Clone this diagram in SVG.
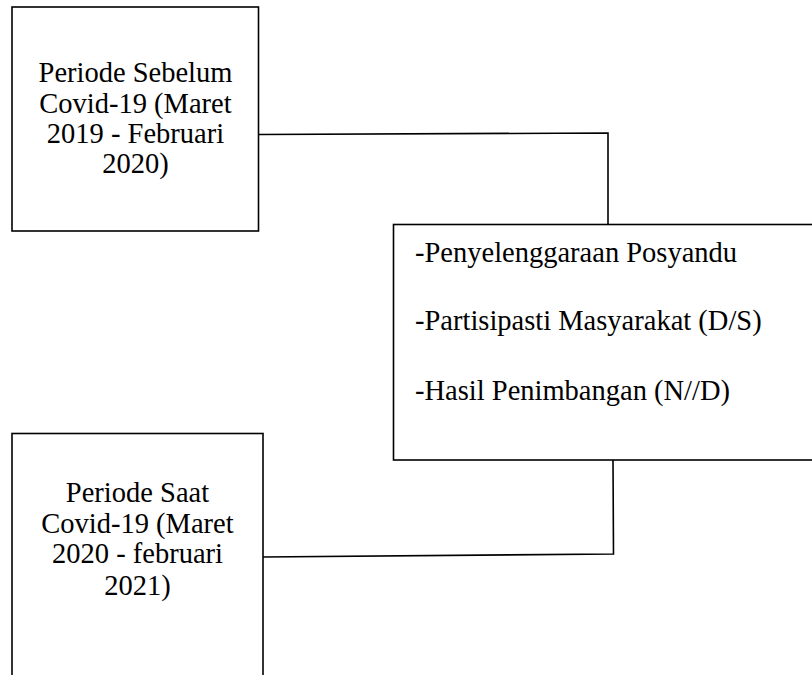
<svg xmlns="http://www.w3.org/2000/svg" width="812" height="675" viewBox="0 0 812 675">
<style>
.box{fill:#fff;stroke:#000;stroke-width:1.6}
.conn{fill:none;stroke:#000;stroke-width:1.6}
.t{font-family:"Liberation Serif","Times New Roman",serif;font-size:28.5px;fill:#000}
.c{text-anchor:middle}
</style>
<rect width="812" height="675" fill="#fff"/>
<g id="connectors">
<polyline class="conn" points="258.5,134.5 608,133 608,224"/>
<polyline class="conn" points="613,460 613.5,554 263,557"/>
</g>
<g id="node-sebelum">
<rect class="box" x="12" y="7" width="246.5" height="224"/>
<text class="t c" x="135.5" y="82">Periode Sebelum</text>
<text class="t c" x="135.5" y="113">Covid-19 (Maret</text>
<text class="t c" x="135.5" y="143">2019 - Februari</text>
<text class="t c" x="135.5" y="173">2020)</text>
</g>
<g id="node-variabel">
<rect class="box" x="393.5" y="224.5" width="430" height="235.5"/>
<text class="t" x="415" y="262">-Penyelenggaraan Posyandu</text>
<text class="t" x="415" y="330">-Partisipasti Masyarakat (D/S)</text>
<text class="t" x="415" y="400">-Hasil Penimbangan (N//D)</text>
</g>
<g id="node-saat">
<rect class="box" x="12" y="433.5" width="251" height="260"/>
<text class="t c" x="137.5" y="502">Periode Saat</text>
<text class="t c" x="137.5" y="533">Covid-19 (Maret</text>
<text class="t c" x="137.5" y="563">2020 - februari</text>
<text class="t c" x="137.5" y="595">2021)</text>
</g>
</svg>
